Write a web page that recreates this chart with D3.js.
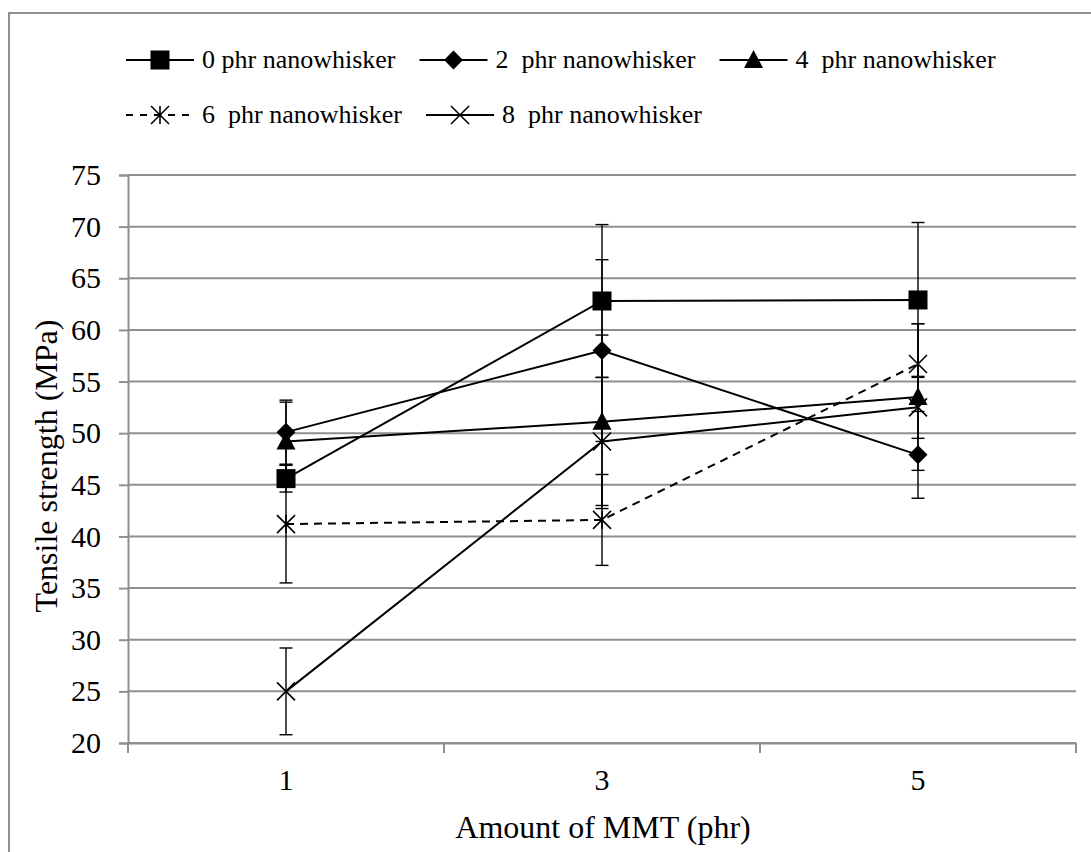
<!DOCTYPE html>
<html lang="en">
<head>
    <meta charset="utf-8">
    <title>Tensile strength</title>
    <style>
        body { margin: 0; background: #fff; }
        text { font-family: "Liberation Serif", "Times New Roman", serif; fill: #000; }
    </style>
</head>
<body>
    <svg id="chart" width="1091" height="852"></svg>
    <script src="https://cdn.jsdelivr.net/npm/d3@7"></script>
    <script>
        // data
        const categories = ["1", "3", "5"];
        const seriesNames = ["0 phr nanowhisker", "2  phr nanowhisker", "4  phr nanowhisker",
                             "6  phr nanowhisker", "8  phr nanowhisker"];
        const markers = ["square", "diamond", "triangle", "asterisk", "cross"];
        const tensile0 = [45.6, 62.8, 62.9];
        const tensile2 = [50.1, 58.0, 47.9];
        const tensile4 = [49.2, 51.1, 53.5];
        const tensile6 = [41.2, 41.6, 56.7];
        const tensile8 = [25.0, 49.2, 52.5];
        const err0 = [1.3, 7.4, 7.5];
        const err2 = [3.1, 8.8, 4.2];
        const err4 = [3.8, 8.4, 7.1];
        const err6 = [5.7, 4.4, 3.9];
        const err8 = [4.2, 6.2, 3.0];
        const yTicks = [20, 25, 30, 35, 40, 45, 50, 55, 60, 65, 70, 75];

        const values = [tensile0, tensile2, tensile4, tensile6, tensile8];
        const errors = [err0, err2, err4, err6, err8];
        const series = seriesNames.map((name, i) => ({
            name: name,
            marker: markers[i],
            dashed: i === 3,
            points: categories.map((c, j) => ({cat: c, v: values[i][j], e: errors[i][j]}))
        }));

        const svg = d3.select("#chart");
        const grey = "#8f8f8f";

        // outer frame (cut off on the right and bottom)
        svg.append("path")
            .attr("d", "M9,852 V13 H1091")
            .attr("fill", "none")
            .attr("stroke", grey)
            .attr("stroke-width", 2);

        const x = d3.scaleBand().domain(categories).range([128, 1076]).padding(0);
        const y = d3.scaleLinear().domain([20, 75]).range([743, 175]);

        // gridlines
        svg.append("g")
            .selectAll("line")
            .data(yTicks)
            .join("line")
                .attr("x1", 128)
                .attr("x2", 1076)
                .attr("y1", d => y(d))
                .attr("y2", d => y(d))
                .attr("stroke", grey)
                .attr("stroke-width", 2);

        // y axis
        const yAxis = svg.append("g")
            .attr("transform", "translate(128,0)")
            .call(d3.axisLeft(y).tickValues(yTicks).tickSize(9).tickPadding(18))
            .attr("font-family", null);
        yAxis.select(".domain").attr("stroke", grey).attr("stroke-width", 2);
        yAxis.selectAll(".tick line").attr("stroke", grey).attr("stroke-width", 2);
        yAxis.selectAll(".tick text")
            .attr("font-size", 30)
            .attr("fill", "#000");

        // x axis: labels in band centers, ticks on band edges
        const xAxis = svg.append("g")
            .attr("transform", "translate(0,743)")
            .call(d3.axisBottom(x).tickSize(0).tickPadding(26))
            .attr("font-family", null);
        xAxis.select(".domain").attr("stroke", grey).attr("stroke-width", 2);
        xAxis.selectAll(".tick text")
            .attr("font-size", 30)
            .attr("fill", "#000");
        const edges = categories.map(c => x(c)).concat([x(categories[categories.length - 1]) + x.bandwidth()]);
        xAxis.selectAll(".edge")
            .data(edges)
            .join("line")
                .attr("class", "edge")
                .attr("x1", d => d)
                .attr("x2", d => d)
                .attr("y1", 0)
                .attr("y2", 10)
                .attr("stroke", grey)
                .attr("stroke-width", 2);

        // axis titles
        svg.append("text")
            .attr("x", 603)
            .attr("y", 838)
            .attr("text-anchor", "middle")
            .attr("font-size", 32)
            .text("Amount of MMT (phr)");
        svg.append("text")
            .attr("transform", "translate(57,466) rotate(-90)")
            .attr("text-anchor", "middle")
            .attr("font-size", 32)
            .text("Tensile strength (MPa)");

        function drawMarker(g, type, cx, cy) {
            if (type === "square") {
                g.append("rect").attr("x", cx - 9.5).attr("y", cy - 9.5)
                    .attr("width", 19).attr("height", 19).attr("fill", "#000");
            } else if (type === "diamond") {
                g.append("path")
                    .attr("d", `M${cx},${cy - 9.5}L${cx + 9.5},${cy}L${cx},${cy + 9.5}L${cx - 9.5},${cy}Z`)
                    .attr("fill", "#000");
            } else if (type === "triangle") {
                g.append("path")
                    .attr("d", `M${cx},${cy - 10}L${cx + 9.5},${cy + 8}L${cx - 9.5},${cy + 8}Z`)
                    .attr("fill", "#000");
            } else {
                const r = 9;
                let d = `M${cx - r},${cy - r}L${cx + r},${cy + r}M${cx - r},${cy + r}L${cx + r},${cy - r}`;
                if (type === "asterisk") d += `M${cx},${cy - r}L${cx},${cy + r}`;
                g.append("path").attr("d", d).attr("stroke", "#000").attr("stroke-width", 1.6).attr("fill", "none");
            }
        }

        const cx = d => x(d.cat) + x.bandwidth() / 2;

        // series lines
        const line = d3.line().x(cx).y(d => y(d.v));
        svg.append("g")
            .selectAll("path")
            .data(series)
            .join("path")
                .attr("d", d => line(d.points))
                .attr("fill", "none")
                .attr("stroke", "#000")
                .attr("stroke-width", 2)
                .attr("stroke-dasharray", d => d.dashed ? "8,6" : null);

        // error bars
        const errG = svg.append("g").attr("stroke", "#000").attr("stroke-width", 1.4);
        series.forEach(s => {
            s.points.forEach(p => {
                const px = cx(p);
                errG.append("line").attr("x1", px).attr("x2", px)
                    .attr("y1", y(p.v - p.e)).attr("y2", y(p.v + p.e));
                [p.v - p.e, p.v + p.e].forEach(v => {
                    errG.append("line").attr("x1", px - 6.5).attr("x2", px + 6.5)
                        .attr("y1", y(v)).attr("y2", y(v));
                });
            });
        });

        // markers
        const markG = svg.append("g");
        series.forEach(s => {
            s.points.forEach(p => drawMarker(markG, s.marker, cx(p), y(p.v)));
        });

        // legend, laid out in two rows like the original
        const legendRows = [[0, 1, 2], [3, 4]];
        const legend = svg.append("g");
        legendRows.forEach((row, r) => {
            let lx = 126;
            const ly = 60 + r * 55;
            row.forEach(i => {
                const s = series[i];
                const g = legend.append("g");
                g.append("line")
                    .attr("x1", lx).attr("x2", lx + 68)
                    .attr("y1", ly).attr("y2", ly)
                    .attr("stroke", "#000").attr("stroke-width", 2)
                    .attr("stroke-dasharray", s.dashed ? "7,7" : null);
                drawMarker(g, s.marker, lx + 34, ly);
                const t = g.append("text")
                    .attr("x", lx + 76)
                    .attr("y", ly + 8)
                    .attr("font-size", 26)
                    .style("white-space", "pre")
                    .text(s.name);
                lx += 76 + t.node().getComputedTextLength() + 24;
            });
        });
    </script>
</body>
</html>
